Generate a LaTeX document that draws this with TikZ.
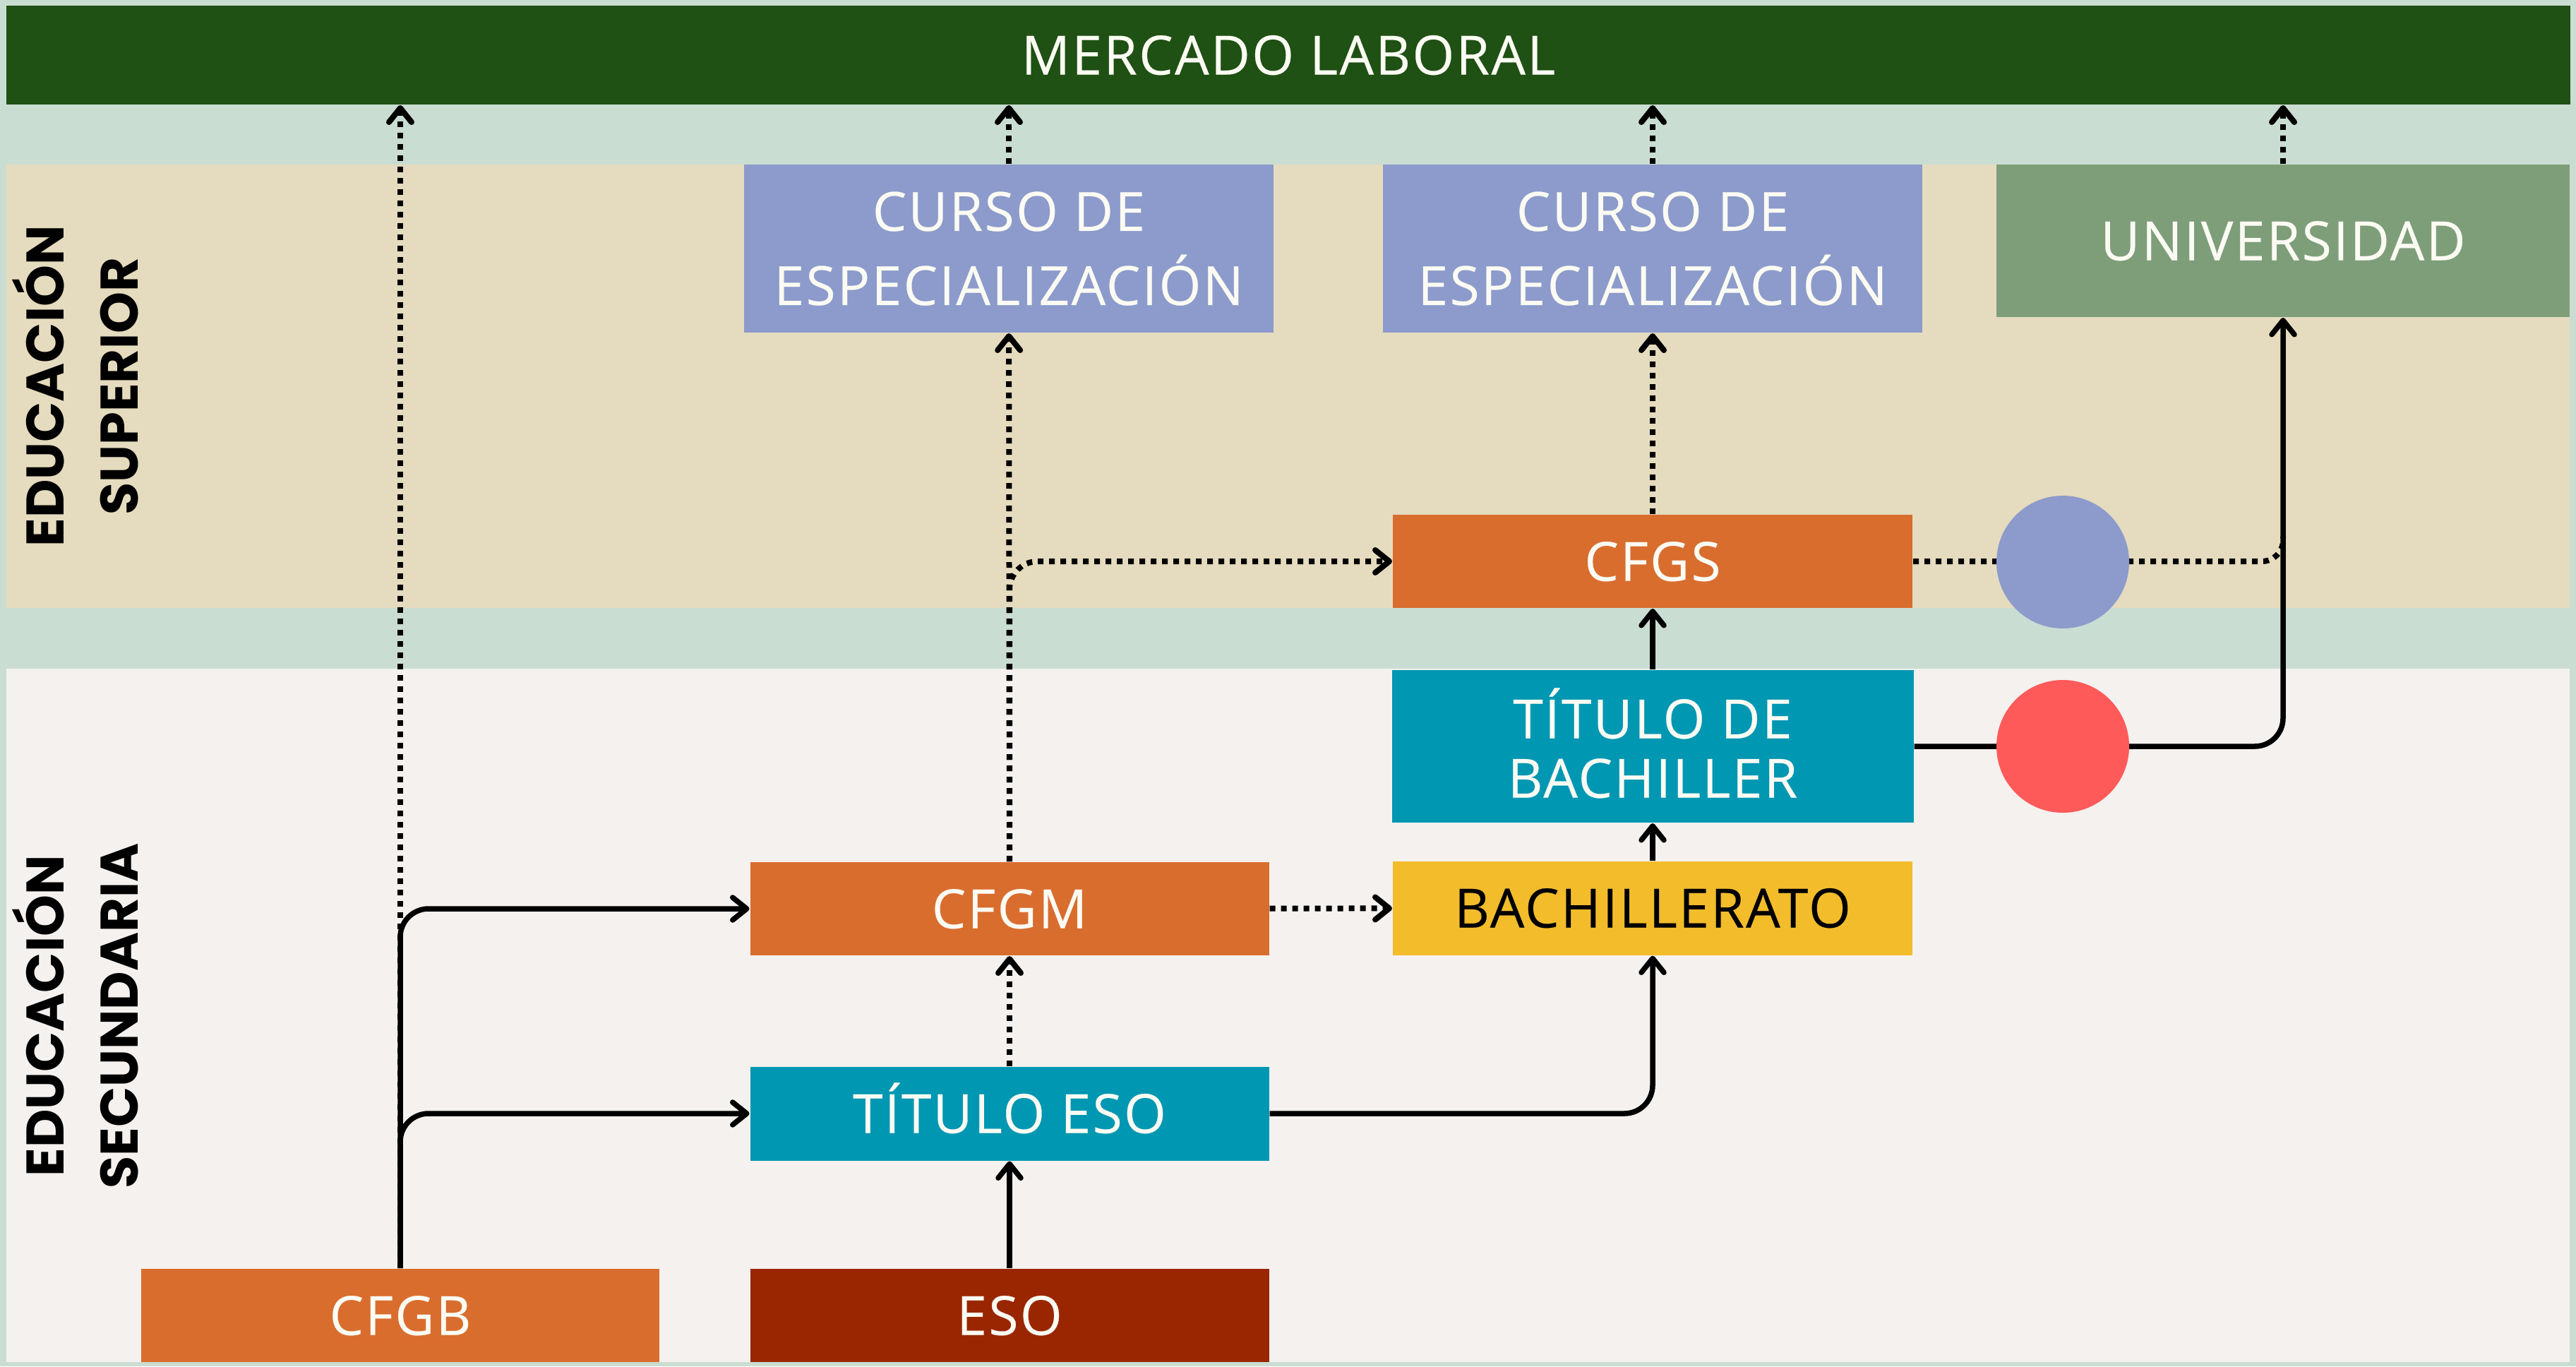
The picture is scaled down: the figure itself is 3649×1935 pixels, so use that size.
\documentclass[tikz,border=0pt]{standalone}
\usepackage{fontspec}
\setmainfont{Open Sans}[LetterSpace=3.3,FakeBold=0.35]
\newfontfamily\sidefont{Poppins}
\usetikzlibrary{arrows.meta}
\definecolor{bgc}{HTML}{CADDD2}
\definecolor{topc}{HTML}{1F5014}
\definecolor{tanc}{HTML}{E5DBBE}
\definecolor{greyc}{HTML}{F4F1EF}
\definecolor{peri}{HTML}{8C9BCB}
\definecolor{sage}{HTML}{7E9E7A}
\definecolor{orangec}{HTML}{D96D2E}
\definecolor{tealc}{HTML}{0097B2}
\definecolor{yellowc}{HTML}{F2BC2B}
\definecolor{darkredc}{HTML}{992600}
\definecolor{redc}{HTML}{FF5A5A}
\definecolor{txtc}{HTML}{FBFBF3}
\pgfdeclarelayer{bands}
\pgfdeclarelayer{lines}
\pgfsetlayers{bands,lines,main}
\begin{document}
\begin{tikzpicture}[x=0.2pt,y=-0.2pt,
  box/.style={inner sep=0pt, text=txtc, align=center, font=\fontsize{15.3}{21}\selectfont},
  onebox/.style={box, text height=11pt, text depth=0pt},
  side/.style={rotate=90, align=center, inner sep=0pt, font=\sidefont\fontsize{15}{21}\bfseries},
  conn/.style={line width=1.5pt, -{Straight Barb[length=4pt,width=6.4pt,round]}, rounded corners=8pt},
  dotc/.style={conn, line width=1.6pt, dash pattern=on 1.6pt off 1.6pt}]
\useasboundingbox (0,0) rectangle (3649,1935);
\begin{pgfonlayer}{bands}
\fill[bgc] (0,0) rectangle (3649,1935);
\fill[tanc] (9,233) rectangle (3640,861);
\fill[greyc] (9,947) rectangle (3640,1929);
\end{pgfonlayer}

\node[onebox, fill=topc, minimum width=726.2pt, minimum height=28pt] (mercado) at (1825,78) {MERCADO LABORAL};
\node[box, fill=peri, minimum width=150pt, minimum height=47.6pt] (curso1) at (1429,352) {CURSO DE\\ESPECIALIZACIÓN};
\node[box, fill=peri, minimum width=152.8pt, minimum height=47.6pt] (curso2) at (2341,352) {CURSO DE\\ESPECIALIZACIÓN};
\node[onebox, fill=sage, minimum width=162.4pt, minimum height=43.2pt] (univ) at (3234,341) {UNIVERSIDAD};
\node[onebox, fill=orangec, minimum width=147.2pt, minimum height=26.4pt] (cfgs) at (2341,795) {CFGS};
\node[circle, fill=peri, minimum size=37.6pt, inner sep=0pt] (bluec) at (2922,796) {};
\node[box, fill=tealc, minimum width=147.8pt, minimum height=43.2pt, font=\fontsize{15.3}{16.8}\selectfont] (tbach) at (2341,1057) {\raisebox{2pt}{TÍTULO DE}\\\raisebox{2pt}{BACHILLER}};
\node[circle, fill=redc, minimum size=37.6pt, inner sep=0pt] (redcirc) at (2922,1057) {};
\node[onebox, fill=yellowc, text=black, minimum width=147.2pt, minimum height=26.6pt] (bachi) at (2341,1286) {BACHILLERATO};
\node[onebox, fill=orangec, minimum width=147pt, minimum height=26.4pt] (cfgm) at (1430,1287) {CFGM};
\node[onebox, fill=tealc, minimum width=147pt, minimum height=26.6pt] (teso) at (1430,1577) {TÍTULO ESO};
\node[onebox, fill=orangec, minimum width=146.6pt, minimum height=26.4pt] (cfgb) at (567,1863) {CFGB};
\node[onebox, fill=darkredc, minimum width=147pt, minimum height=26.4pt] (eso) at (1430,1863) {ESO};

\node[side] (sup) at (107,547) {EDUCACIÓN\\SUPERIOR};
\node[side] (sec) at (107,1439) {EDUCACIÓN\\SECUNDARIA};

\coordinate (join) at (3234,760);

\begin{pgfonlayer}{lines}
\draw[dotc] (cfgb.north) -- (cfgb.north |- mercado.south);
\draw[conn] (cfgb.north) |- (teso.west);
\draw[conn] (cfgb.north) |- (cfgm.west);
\draw[conn] (eso) -- (teso);
\draw[dotc] (teso) -- (cfgm);
\draw[dotc] (cfgm) -- (curso1);
\draw[dotc] (cfgm.north) |- (cfgs.west);
\draw[dotc] (curso1) -- (curso1.north |- mercado.south);
\draw[dotc] (cfgm) -- (bachi);
\draw[conn] (teso.east) -| (bachi.south);
\draw[conn] (bachi) -- (tbach);
\draw[conn] (tbach) -- (cfgs);
\draw[dotc] (cfgs) -- (curso2);
\draw[dotc] (curso2) -- (curso2.north |- mercado.south);
\draw[dotc, -, rounded corners=6pt] (cfgs.east) -| (join);
\draw[conn] (tbach.east) -| (univ.south);
\draw[dotc] (univ) -- (univ.north |- mercado.south);
\end{pgfonlayer}
\end{tikzpicture}
\end{document}
